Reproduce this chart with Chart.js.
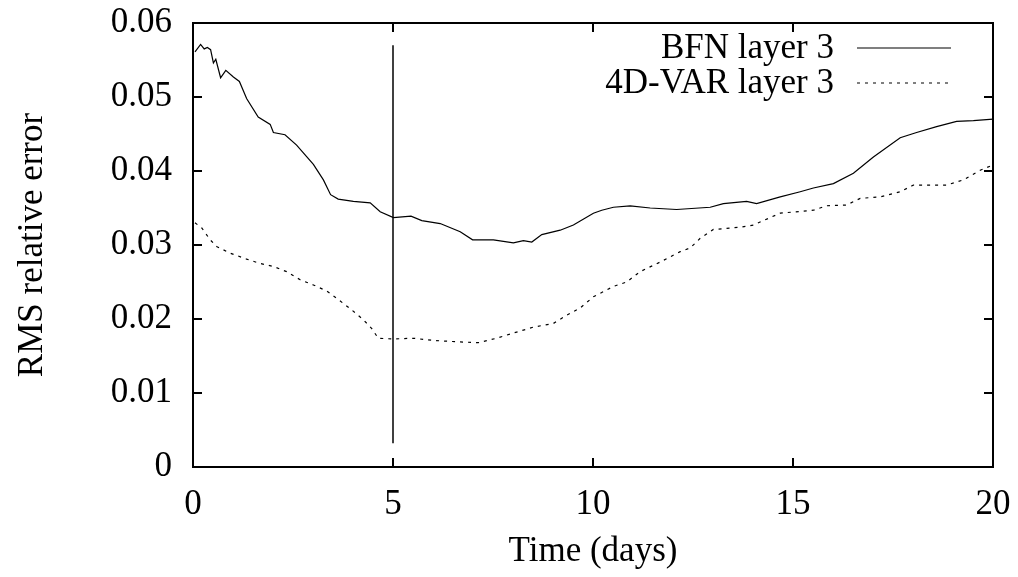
<!DOCTYPE html>
<html>
<head>
<meta charset="utf-8">
<script src="https://cdn.jsdelivr.net/npm/chart.js@4"></script>
<style>
  body { margin: 0; background: #fff; }
  #wrap { width: 1018px; height: 577px; }
</style>
</head>
<body>
<div id="wrap"><canvas id="errChart" width="1018" height="577"></canvas></div>
<script>
// Data (time in days, RMS relative error)
const bfnDays = [0.05, 0.19, 0.28, 0.36, 0.44, 0.51, 0.57, 0.69, 0.82, 1.01, 1.16, 1.34, 1.63, 1.93, 2.01, 2.3, 2.59, 3.01, 3.26, 3.44, 3.63, 4.01, 4.43, 4.68, 5.01, 5.45, 5.72, 6.18, 6.68, 6.99, 7.51, 8.01, 8.26, 8.47, 8.72, 9.18, 9.51, 10.01, 10.22, 10.51, 10.93, 11.43, 12.09, 12.93, 13.26, 13.84, 14.09, 14.68, 15.18, 15.51, 16.01, 16.51, 17.01, 17.68, 18.09, 18.59, 19.09, 19.51, 20];
const bfnErr = [0.0561, 0.0571, 0.0565, 0.0567, 0.0564, 0.0546, 0.0551, 0.0526, 0.0536, 0.0527, 0.0521, 0.0498, 0.0473, 0.0463, 0.0452, 0.0449, 0.0435, 0.0409, 0.0388, 0.0368, 0.0362, 0.0359, 0.0357, 0.0345, 0.0337, 0.0339, 0.0333, 0.0329, 0.0318, 0.0307, 0.0307, 0.0303, 0.0306, 0.0304, 0.0314, 0.0320, 0.0327, 0.0343, 0.0347, 0.0351, 0.0353, 0.0350, 0.0348, 0.0351, 0.0356, 0.0359, 0.0356, 0.0365, 0.0372, 0.0377, 0.0383, 0.0397, 0.0419, 0.0445, 0.0452, 0.0460, 0.0467, 0.0468, 0.0470];

const varDays = [0.05, 0.22, 0.43, 0.59, 0.93, 1.34, 1.68, 2.01, 2.34, 2.68, 3.01, 3.34, 3.59, 3.93, 4.26, 4.47, 4.63, 5.01, 5.51, 6.01, 6.68, 7.13, 7.59, 8.01, 8.51, 9.01, 9.34, 9.68, 10.01, 10.51, 10.84, 11.18, 11.68, 12.18, 12.43, 12.68, 13.01, 13.68, 14.01, 14.68, 15.51, 15.84, 16.34, 16.68, 17.18, 17.68, 18.01, 18.84, 19.26, 19.68, 20];
const varErr = [0.0330, 0.0323, 0.0307, 0.0298, 0.0289, 0.0281, 0.0275, 0.0271, 0.0264, 0.0253, 0.0246, 0.0238, 0.0228, 0.0214, 0.0199, 0.0187, 0.0174, 0.0173, 0.0174, 0.0171, 0.0169, 0.0168, 0.0174, 0.0181, 0.0189, 0.0194, 0.0205, 0.0215, 0.0230, 0.0244, 0.0250, 0.0264, 0.0277, 0.0291, 0.0296, 0.0309, 0.0321, 0.0324, 0.0327, 0.0343, 0.0347, 0.0353, 0.0354, 0.0363, 0.0365, 0.0372, 0.0381, 0.0381, 0.0388, 0.0401, 0.0408];

// vertical marker at day 5
const markDays = [5, 5];
const markErr = [0.0032, 0.057];

const xTicks = [0, 5, 10, 15, 20];
const yTicks = [0, 0.01, 0.02, 0.03, 0.04, 0.05, 0.06];

const FONT = '"Liberation Serif", "Times New Roman", serif';
const FONT_SIZE = 35;

function toPoints(xs, ys) {
    return xs.map((x, i) => ({ x: x, y: ys[i] }));
}

// gnuplot style frame with inward ticks on all sides
const framePlugin = {
    id: 'frame',
    afterDatasetsDraw(chart) {
        const { ctx, chartArea: a, scales } = chart;
        ctx.save();
        ctx.strokeStyle = '#000';
        ctx.lineWidth = 2;
        ctx.strokeRect(a.left, a.top, a.right - a.left, a.bottom - a.top);
        const len = 9;
        ctx.beginPath();
        xTicks.forEach(v => {
            const px = scales.x.getPixelForValue(v);
            ctx.moveTo(px, a.bottom); ctx.lineTo(px, a.bottom - len);
            ctx.moveTo(px, a.top); ctx.lineTo(px, a.top + len);
        });
        yTicks.forEach(v => {
            const py = scales.y.getPixelForValue(v);
            ctx.moveTo(a.left, py); ctx.lineTo(a.left + len, py);
            ctx.moveTo(a.right, py); ctx.lineTo(a.right - len, py);
        });
        ctx.stroke();
        ctx.restore();
    }
};

// key in the top right corner: text right aligned, sample line after it
const keyPlugin = {
    id: 'key',
    afterDatasetsDraw(chart) {
        const { ctx } = chart;
        const rows = [0, 1];
        ctx.save();
        ctx.font = FONT_SIZE + 'px ' + FONT;
        ctx.textAlign = 'right';
        ctx.textBaseline = 'middle';
        rows.forEach(i => {
            const ds = chart.data.datasets[i];
            const y = 48 + i * 35;
            ctx.fillStyle = '#000';
            ctx.fillText(ds.label, 834, y + 1);
            ctx.strokeStyle = ds.borderColor;
            ctx.lineWidth = ds.borderWidth;
            ctx.setLineDash(ds.borderDash || []);
            ctx.beginPath();
            ctx.moveTo(857, y);
            ctx.lineTo(951, y);
            ctx.stroke();
        });
        ctx.restore();
    }
};

const chart = new Chart(document.getElementById('errChart'), {
    type: 'line',
    data: {
        datasets: [
            {
                label: 'BFN layer 3',
                data: toPoints(bfnDays, bfnErr),
                borderColor: '#000',
                borderWidth: 1.2,
                pointRadius: 0,
                tension: 0
            },
            {
                label: '4D-VAR layer 3',
                data: toPoints(varDays, varErr),
                borderColor: '#000',
                borderWidth: 1.2,
                borderDash: [3, 5],
                pointRadius: 0,
                tension: 0
            },
            {
                label: 'marker',
                data: toPoints(markDays, markErr),
                borderColor: '#000',
                borderWidth: 1.5,
                pointRadius: 0
            }
        ]
    },
    options: {
        responsive: false,
        animation: false,
        devicePixelRatio: 1,
        layout: { padding: { top: 23, right: 25, left: 0, bottom: 0 } },
        plugins: {
            legend: { display: false },
            tooltip: { enabled: false }
        },
        scales: {
            x: {
                type: 'linear',
                min: 0,
                max: 20,
                afterBuildTicks: s => { s.ticks = xTicks.map(v => ({ value: v })); },
                afterFit: s => { s.height = 110; s.paddingLeft = 0; s.paddingRight = 0; },
                grid: { display: false, drawTicks: false },
                border: { display: false },
                ticks: {
                    color: '#000',
                    padding: 17,
                    maxRotation: 0,
                    font: { family: FONT, size: FONT_SIZE },
                    callback: v => String(v)
                },
                title: {
                    display: true,
                    text: 'Time (days)',
                    color: '#000',
                    padding: { top: 0, bottom: 4 },
                    font: { family: FONT, size: FONT_SIZE }
                }
            },
            y: {
                type: 'linear',
                min: 0,
                max: 0.06,
                afterBuildTicks: s => { s.ticks = yTicks.map(v => ({ value: v })); },
                afterFit: s => { s.width = 193; s.paddingTop = 0; s.paddingBottom = 0; },
                grid: { display: false, drawTicks: false },
                border: { display: false },
                ticks: {
                    color: '#000',
                    padding: 21,
                    font: { family: FONT, size: FONT_SIZE },
                    callback: v => v === 0 ? '0' : v.toFixed(2)
                },
                title: {
                    display: true,
                    text: 'RMS relative error',
                    color: '#000',
                    padding: { top: 12, bottom: 0 },
                    font: { family: FONT, size: FONT_SIZE }
                }
            }
        }
    },
    plugins: [framePlugin, keyPlugin]
});
</script>
</body>
</html>
